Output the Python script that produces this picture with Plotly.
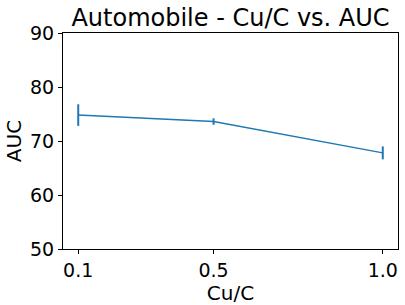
import plotly.graph_objects as go

cu_c = [0.1, 0.5, 1.0]
auc = [74.8, 73.6, 67.8]
auc_err = [2.0, 0.6, 1.2]
x_ticks = [0.1, 0.5, 1.0]
x_tick_labels = ["0.1", "0.5", "1.0"]
y_ticks = [50, 60, 70, 80, 90]

fig = go.Figure()
fig.add_trace(go.Scatter(
    x=cu_c, y=auc, mode="lines",
    line=dict(color="#1f77b4", width=1.5),
    error_y=dict(type="data", array=auc_err, visible=True,
                 color="#1f77b4", thickness=2, width=0),
))
fig.update_layout(
    width=405, height=305,
    margin=dict(l=63, r=7, t=33, b=56),
    paper_bgcolor="white", plot_bgcolor="white",
    font=dict(family="DejaVu Sans", size=18, color="black"),
    title=dict(text="Automobile - Cu/C vs. AUC", x=0.5, xanchor="center",
               xref="paper", y=0.97, yanchor="top", font=dict(size=24)),
    showlegend=False,
)
fig.update_xaxes(
    range=[0.055, 1.045], tickvals=x_ticks, ticktext=x_tick_labels,
    showgrid=False, zeroline=False, showline=True, linecolor="black",
    linewidth=1, mirror=True, ticks="outside", ticklen=4, tickcolor="black",
    tickfont=dict(size=19),
    title=dict(text="Cu/C", font=dict(size=20), standoff=4),
)
fig.update_yaxes(
    range=[50, 90], tickvals=y_ticks,
    showgrid=False, zeroline=False, showline=True, linecolor="black",
    linewidth=1, mirror=True, ticks="outside", ticklen=4, tickcolor="black",
    tickfont=dict(size=19),
    title=dict(text="AUC", font=dict(size=20), standoff=3),
)
fig.write_html("out.html", config={"displayModeBar": False},
               post_script="document.body.style.margin='0';")
